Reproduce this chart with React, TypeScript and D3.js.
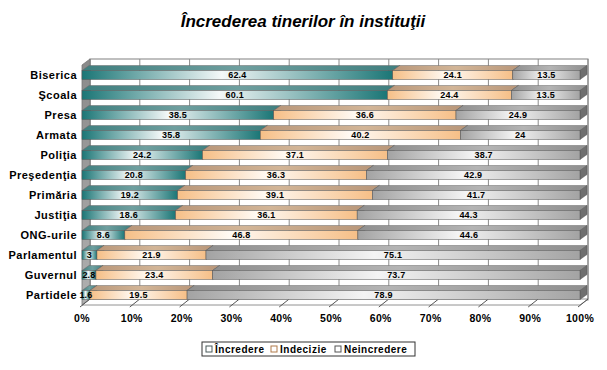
import React from "react";
import * as d3 from "d3";

const categories = ["Biserica", "Şcoala", "Presa", "Armata", "Poliţia", "Preşedenţia", "Primăria", "Justiţia", "ONG-urile", "Parlamentul", "Guvernul", "Partidele"];
const incredere = [62.4, 60.1, 38.5, 35.8, 24.2, 20.8, 19.2, 18.6, 8.6, 3, 2.8, 1.6];
const indecizie = [24.1, 24.4, 36.6, 40.2, 37.1, 36.3, 39.1, 36.1, 46.8, 21.9, 23.4, 19.5];
const neincredere = [13.5, 13.5, 24.9, 24, 38.7, 42.9, 41.7, 44.3, 44.6, 75.1, 73.7, 78.9];
const seriesNames = ["Încredere", "Indecizie", "Neincredere"];
const xTicks = [0, 10, 20, 30, 40, 50, 60, 70, 80, 90, 100];
const title = "Încrederea tinerilor în instituţii";

const W = 607, H = 370;
const X0 = 82, X1 = 580, YT = 65, YB = 305;
const WDX = 8, WDY = 6; // wall depth
const BDX = 7, BDY = 5; // bar depth
const BH = 9;

const faceColors = [
  { end: "#1b7676", mid: "#f4f8f8", top: "#3f7f7f", top2: "#6f9f9f" },
  { end: "#f6bf87", mid: "#fffaf4", top: "#b9977a", top2: "#d2b597" },
  { end: "#a3a3a3", mid: "#f4f4f4", top: "#8f8f8f", top2: "#b4b4b4" },
];
const legendStroke = ["#4a5a5a", "#b07a4a", "#555555"];

export default function App() {
  const x = d3.scaleLinear().domain([0, 100]).range([X0, X1]);
  const y = d3.scaleBand<string>().domain(categories).range([YT, YB]);
  const series = [incredere, indecizie, neincredere];
  const font = "'Liberation Sans', Arial, sans-serif";

  const rows = categories.map((c, i) => {
    const vals = series.map((s) => s[i]);
    const sum = d3.sum(vals);
    let acc = 0;
    const segs = vals.map((v, k) => {
      const a = acc;
      acc += (v / sum) * 100;
      return { k, v, a, b: acc };
    });
    return { c, segs };
  });

  const pt = (arr: [number, number][]) => arr.map((p) => p.join(",")).join(" ");

  return (
    <svg width={W} height={H} style={{ position: "absolute", left: 0, top: 0, background: "#fff" }} fontFamily={font}>
      <defs>
        {faceColors.map((fc, k) => (
          <linearGradient key={"f" + k} id={"front" + k} x1="0" y1="0" x2="1" y2="0">
            <stop offset="0" stopColor={fc.end} />
            <stop offset="0.45" stopColor={fc.mid} />
            <stop offset="1" stopColor={fc.end} />
          </linearGradient>
        ))}
        {faceColors.map((fc, k) => (
          <linearGradient key={"t" + k} id={"top" + k} x1="0" y1="0" x2="1" y2="0">
            <stop offset="0" stopColor={fc.top} />
            <stop offset="0.5" stopColor={fc.top2} />
            <stop offset="1" stopColor={fc.top} />
          </linearGradient>
        ))}
        <linearGradient id="leftwall" x1="0" y1="0" x2="0" y2="1">
          <stop offset="0" stopColor="#8a8a8a" />
          <stop offset="1" stopColor="#b0b0b0" />
        </linearGradient>
      </defs>

      <text x={303} y={27} textAnchor="middle" fontSize={17} fontWeight="bold" fontStyle="italic" fill="#000">
        {title}
      </text>

      {/* back wall */}
      <rect x={X0 + WDX} y={YT - WDY} width={X1 - X0} height={YB - YT + 1} fill="#fff" stroke="#808080" strokeWidth={1} />
      {xTicks.map((t) => (
        <line key={"g" + t} x1={x(t) + WDX} x2={x(t) + WDX} y1={YT - WDY} y2={YB - WDY} stroke="#8a8a8a" strokeWidth={1} />
      ))}
      {/* left wall */}
      <polygon points={pt([[X0, YT], [X0 + WDX, YT - WDY], [X0 + WDX, YB - WDY], [X0, YB]])} fill="url(#leftwall)" stroke="#777" strokeWidth={0.8} />
      {/* floor */}
      <polygon points={pt([[X0, YB], [X1, YB], [X1 + WDX, YB - WDY], [X0 + WDX, YB - WDY]])} fill="#fff" stroke="#777" strokeWidth={0.8} />
      {xTicks.map((t) => (
        <line key={"ft" + t} x1={x(t) - 2} y1={YB + 2} x2={x(t) + WDX} y2={YB - WDY} stroke="#555" strokeWidth={1} />
      ))}

      {/* bars */}
      {rows.map((r) => {
        const cy = (y(r.c) as number) + y.bandwidth() / 2;
        const top = cy - BH / 2;
        const bot = cy + BH / 2;
        return (
          <g key={r.c}>
            {r.segs.map((s) => {
              const xa = x(s.a), xb = x(s.b);
              return (
                <g key={s.k}>
                  <polygon points={pt([[xa, top], [xb, top], [xb + BDX, top - BDY], [xa + BDX, top - BDY]])} fill={`url(#top${s.k})`} stroke="#6a6a6a" strokeWidth={0.5} />
                  <polygon points={pt([[xb, top], [xb + BDX, top - BDY], [xb + BDX, bot - BDY], [xb, bot]])} fill="#6f6f6f" stroke="#555" strokeWidth={0.5} />
                  <rect x={xa} y={top} width={Math.max(0, xb - xa)} height={BH} fill={`url(#front${s.k})`} stroke="#555" strokeWidth={0.5} />
                </g>
              );
            })}
            {r.segs.map((s) => (
              <text key={"l" + s.k} x={(x(s.a) + x(s.b)) / 2} y={cy} dy="0.35em" textAnchor="middle" fontSize={9} fontWeight="bold" letterSpacing={0.2} fill="#000">
                {String(s.v)}
              </text>
            ))}
            <text x={77} y={cy} dy="0.35em" textAnchor="end" fontSize={11} fontWeight="bold" letterSpacing={0.5} fill="#000">
              {r.c}
            </text>
          </g>
        );
      })}

      {/* x tick labels */}
      {xTicks.map((t) => (
        <text key={"xl" + t} x={x(t)} y={318} dy="0.35em" textAnchor="middle" fontSize={10.5} fontWeight="bold" letterSpacing={0.3} fill="#000">
          {t + "%"}
        </text>
      ))}

      {/* legend */}
      <rect x={202} y={342} width={213} height={14} fill="#fff" stroke="#333" strokeWidth={1} />
      {seriesNames.map((n, k) => {
        const lx = [206, 271, 335][k];
        return (
          <g key={n}>
            <rect x={lx} y={346} width={6} height={6} fill="#fff" stroke={legendStroke[k]} strokeWidth={1} />
            <text x={lx + 9} y={349} dy="0.35em" fontSize={10} fontWeight="bold" letterSpacing={0.5} fill="#000">
              {n}
            </text>
          </g>
        );
      })}
    </svg>
  );
}
